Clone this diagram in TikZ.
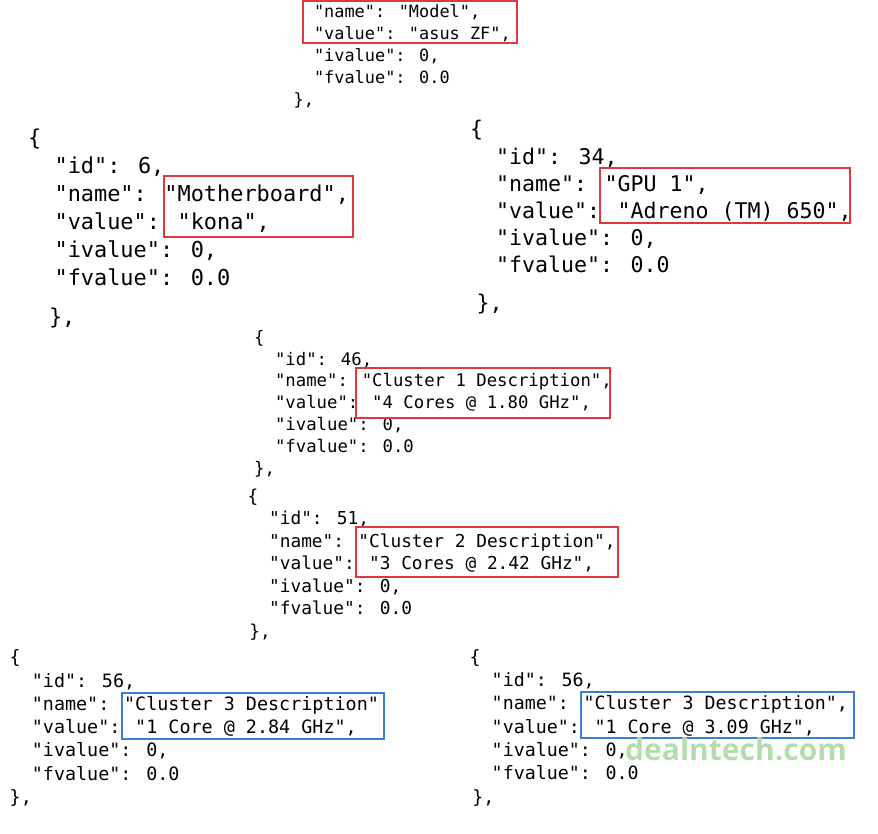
\documentclass[tikz,border=0pt]{standalone}
\usepackage{fontspec}
\newfontfamily\codefont{DejaVu Sans Mono}
\newfontfamily\markfont{Open Sans}
\usetikzlibrary{positioning}
\definecolor{boxred}{RGB}{222,56,60}
\definecolor{boxblue}{RGB}{58,128,208}
\definecolor{markgreen}{RGB}{180,221,172}

\begin{document}
\begin{tikzpicture}[x=1pt, y=-1pt, every node/.style = {align=left, inner sep=0pt, anchor=base west},
    redbox/.style = {draw=boxred, line width=1.8pt},
    bluebox/.style = {draw=boxblue, line width=1.6pt}]
  \useasboundingbox (0,0) rectangle (878,833);
  % top: model (anchored on the closing line)
  \node (model) [font=\codefont\fontsize{16.9}{22}\selectfont] at (293.5,105)
    {\phantom{xx}"name": "Model",\\
     \phantom{xx}"value": "asus ZF",\\
     \phantom{xx}"ivalue": 0,\\
     \phantom{xx}"fvalue": 0.0\\
     \},};
  \draw[redbox] (303,1) rectangle (517,43);
  % motherboard and gpu
  \node (mboard) [font=\codefont\fontsize{21.9}{28}\selectfont] at (28,324)
    {\{\\
     \phantom{xx}"id": 6,\\
     \phantom{xx}"name": "Motherboard",\\
     \phantom{xx}"value": "kona",\\
     \phantom{xx}"ivalue": 0,\\
     \phantom{xx}"fvalue": 0.0\\[11pt]
     \hspace*{0.95em}\},};
  \draw[redbox] (164,176) rectangle (353,237);
  \node (gpu) [font=\codefont\fontsize{21.6}{27.2}\selectfont] at (470,310)
    {\{\\
     \phantom{xx}"id": 34,\\
     \phantom{xx}"name": "GPU 1",\\
     \phantom{xx}"value": "Adreno (TM) 650",\\
     \phantom{xx}"ivalue": 0,\\
     \phantom{xx}"fvalue": 0.0\\[10pt]
     \hspace*{0.3em}\},};
  \draw[redbox] (600,168) rectangle (850,223);
  % clusters 1 and 2
  \node (clust1) [font=\codefont\fontsize{17.3}{21.8}\selectfont] at (254,474)
    {\{\\
     \phantom{xx}"id": 46,\\
     \phantom{xx}"name": "Cluster 1 Description",\\
     \phantom{xx}"value": "4 Cores @ 1.80 GHz",\\
     \phantom{xx}"ivalue": 0,\\
     \phantom{xx}"fvalue": 0.0\\
     \},};
  \draw[redbox] (356,368) rectangle (610,418);
  \node (clust2) [font=\codefont\fontsize{17.8}{22.5}\selectfont] at (247.5,637)
    {\{\\
     \phantom{xx}"id": 51,\\
     \phantom{xx}"name": "Cluster 2 Description",\\
     \phantom{xx}"value": "3 Cores @ 2.42 GHz",\\
     \phantom{xx}"ivalue": 0,\\
     \phantom{xx}"fvalue": 0.0\\
     \hspace*{0.1em}\},};
  \draw[redbox] (356,527) rectangle (618,577);
  % cluster 3, both variants
  \node (clust3a) [font=\codefont\fontsize{18.4}{23.3}\selectfont] at (9.5,803.5)
    {\{\\
     \phantom{xx}"id": 56,\\
     \phantom{xx}"name": "Cluster 3 Description"\\
     \phantom{xx}"value": "1 Core @ 2.84 GHz",\\
     \phantom{xx}"ivalue": 0,\\
     \phantom{xx}"fvalue": 0.0\\
     \},};
  \draw[bluebox] (122,693) rectangle (384,739);
  \node (clust3b) [font=\codefont\fontsize{18.3}{23.3}\selectfont] at (469.5,803)
    {\{\\
     \phantom{xx}"id": 56,\\
     \phantom{xx}"name": "Cluster 3 Description",\\
     \phantom{xx}"value": "1 Core @ 3.09 GHz",\\
     \phantom{xx}"ivalue": 0,\\
     \phantom{xx}"fvalue": 0.0\\
     \hspace*{0.15em}\},};
  \draw[bluebox] (581,692) rectangle (854,738);
  \node (mark) [font=\markfont\bfseries\fontsize{30}{30}\selectfont, text=markgreen] at (625,760) {dealntech.com};
\end{tikzpicture}
\end{document}
